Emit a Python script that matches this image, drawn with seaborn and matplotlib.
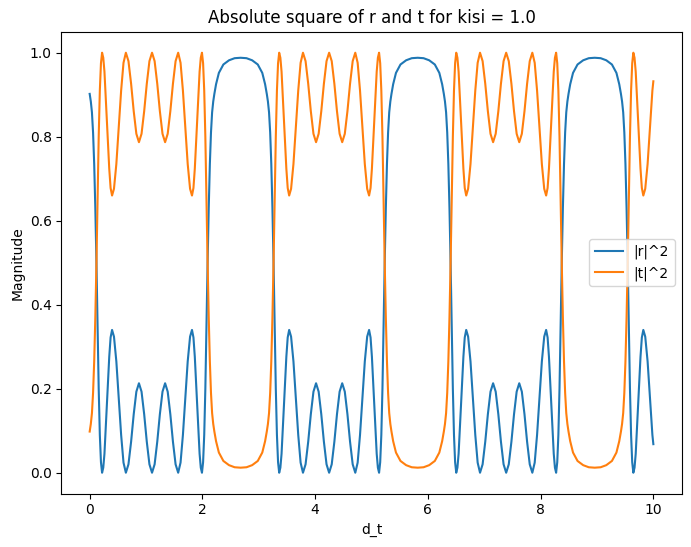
import matplotlib
matplotlib.use("Agg")
import matplotlib.pyplot as plt
import seaborn as sns
import pandas as pd

# d_t sample positions
d_t = [
    0.000, 0.020, 0.040, 0.060, 0.080, 0.100, 0.120, 0.140, 0.160, 0.180, 0.200, 0.220,
    0.241, 0.262, 0.304, 0.347, 0.371, 0.397, 0.431, 0.473, 0.515, 0.558, 0.600, 0.642,
    0.688, 0.735, 0.781, 0.828, 0.874, 0.920, 0.967, 1.013, 1.060, 1.106,
    1.152, 1.199, 1.245, 1.292, 1.338, 1.384, 1.431, 1.477, 1.524, 1.570,
    1.612, 1.654, 1.697, 1.739, 1.781, 1.815, 1.841, 1.865, 1.908, 1.950, 1.971, 1.992,
    2.012, 2.032, 2.052, 2.072, 2.092, 2.112, 2.132, 2.152, 2.172, 2.192, 2.212, 2.242,
    2.292, 2.372, 2.472, 2.572, 2.677,
    2.782, 2.882, 2.982, 3.062, 3.112, 3.142, 3.162, 3.182, 3.202, 3.222, 3.242, 3.262,
    3.282, 3.302, 3.322, 3.342, 3.362,
    3.383, 3.404, 3.446, 3.489, 3.513, 3.539, 3.573, 3.615, 3.657, 3.700, 3.742, 3.784,
    3.830, 3.877, 3.923, 3.970, 4.016, 4.062, 4.109, 4.155, 4.202, 4.248,
    4.294, 4.341, 4.387, 4.434, 4.480, 4.526, 4.573, 4.619, 4.666, 4.712,
    4.754, 4.796, 4.839, 4.881, 4.923, 4.957, 4.983, 5.007, 5.050, 5.092, 5.113, 5.134,
    5.154, 5.174, 5.194, 5.214, 5.234, 5.254, 5.274, 5.294, 5.314, 5.334, 5.354, 5.384,
    5.434, 5.514, 5.614, 5.714, 5.819,
    5.923, 6.023, 6.123, 6.203, 6.253, 6.283, 6.303, 6.323, 6.343, 6.363, 6.383, 6.403,
    6.423, 6.443, 6.463, 6.483, 6.503,
    6.524, 6.545, 6.587, 6.630, 6.654, 6.680, 6.714, 6.756, 6.798, 6.841, 6.883, 6.925,
    6.971, 7.018, 7.064, 7.111, 7.157, 7.203, 7.250, 7.296, 7.343, 7.389,
    7.435, 7.482, 7.528, 7.575, 7.621, 7.667, 7.714, 7.760, 7.807, 7.853,
    7.895, 7.937, 7.980, 8.022, 8.064, 8.098, 8.124, 8.148, 8.191, 8.233, 8.254, 8.275,
    8.295, 8.315, 8.335, 8.355, 8.375, 8.395, 8.415, 8.435, 8.455, 8.475, 8.495, 8.525,
    8.575, 8.655, 8.755, 8.855, 8.960,
    9.065, 9.165, 9.265, 9.345, 9.395, 9.425, 9.445, 9.465, 9.485, 9.505, 9.525, 9.545,
    9.565, 9.585, 9.605, 9.625, 9.645,
    9.666, 9.687, 9.729, 9.772, 9.796, 9.822, 9.856, 9.898, 9.940, 9.983, 10.000,
]

# |r|^2 values
r_sq = [
    0.902, 0.884, 0.858, 0.810, 0.735, 0.630, 0.500, 0.350, 0.200, 0.090, 0.025, 0.000,
    0.012, 0.045, 0.158, 0.276, 0.322, 0.340, 0.324, 0.265, 0.179, 0.090, 0.024, 0.000,
    0.020, 0.074, 0.139, 0.193, 0.213, 0.193, 0.139, 0.074, 0.020, 0.000,
    0.020, 0.074, 0.139, 0.193, 0.213, 0.193, 0.139, 0.074, 0.020, 0.000,
    0.024, 0.090, 0.179, 0.265, 0.324, 0.340, 0.322, 0.276, 0.158, 0.045, 0.012, 0.000,
    0.025, 0.090, 0.200, 0.350, 0.500, 0.630, 0.735, 0.810, 0.858, 0.884, 0.902, 0.925,
    0.952, 0.972, 0.982, 0.987, 0.988,
    0.987, 0.982, 0.972, 0.952, 0.925, 0.902, 0.884, 0.858, 0.810, 0.735, 0.630, 0.500,
    0.350, 0.200, 0.090, 0.025, 0.000,
    0.012, 0.045, 0.158, 0.276, 0.322, 0.340, 0.324, 0.265, 0.179, 0.090, 0.024, 0.000,
    0.020, 0.074, 0.139, 0.193, 0.213, 0.193, 0.139, 0.074, 0.020, 0.000,
    0.020, 0.074, 0.139, 0.193, 0.213, 0.193, 0.139, 0.074, 0.020, 0.000,
    0.024, 0.090, 0.179, 0.265, 0.324, 0.340, 0.322, 0.276, 0.158, 0.045, 0.012, 0.000,
    0.025, 0.090, 0.200, 0.350, 0.500, 0.630, 0.735, 0.810, 0.858, 0.884, 0.902, 0.925,
    0.952, 0.972, 0.982, 0.987, 0.988,
    0.987, 0.982, 0.972, 0.952, 0.925, 0.902, 0.884, 0.858, 0.810, 0.735, 0.630, 0.500,
    0.350, 0.200, 0.090, 0.025, 0.000,
    0.012, 0.045, 0.158, 0.276, 0.322, 0.340, 0.324, 0.265, 0.179, 0.090, 0.024, 0.000,
    0.020, 0.074, 0.139, 0.193, 0.213, 0.193, 0.139, 0.074, 0.020, 0.000,
    0.020, 0.074, 0.139, 0.193, 0.213, 0.193, 0.139, 0.074, 0.020, 0.000,
    0.024, 0.090, 0.179, 0.265, 0.324, 0.340, 0.322, 0.276, 0.158, 0.045, 0.012, 0.000,
    0.025, 0.090, 0.200, 0.350, 0.500, 0.630, 0.735, 0.810, 0.858, 0.884, 0.902, 0.925,
    0.952, 0.972, 0.982, 0.987, 0.988,
    0.987, 0.982, 0.972, 0.952, 0.925, 0.902, 0.884, 0.858, 0.810, 0.735, 0.630, 0.500,
    0.350, 0.200, 0.090, 0.025, 0.000,
    0.012, 0.045, 0.158, 0.276, 0.322, 0.340, 0.324, 0.265, 0.179, 0.090, 0.068,
]

# |t|^2 values
t_sq = [
    0.098, 0.116, 0.142, 0.190, 0.265, 0.370, 0.500, 0.650, 0.800, 0.910, 0.975, 1.000,
    0.988, 0.955, 0.842, 0.724, 0.678, 0.660, 0.676, 0.735, 0.821, 0.910, 0.976, 1.000,
    0.980, 0.926, 0.861, 0.807, 0.787, 0.807, 0.861, 0.926, 0.980, 1.000,
    0.980, 0.926, 0.861, 0.807, 0.787, 0.807, 0.861, 0.926, 0.980, 1.000,
    0.976, 0.910, 0.821, 0.735, 0.676, 0.660, 0.678, 0.724, 0.842, 0.955, 0.988, 1.000,
    0.975, 0.910, 0.800, 0.650, 0.500, 0.370, 0.265, 0.190, 0.142, 0.116, 0.098, 0.075,
    0.048, 0.028, 0.018, 0.013, 0.012,
    0.013, 0.018, 0.028, 0.048, 0.075, 0.098, 0.116, 0.142, 0.190, 0.265, 0.370, 0.500,
    0.650, 0.800, 0.910, 0.975, 1.000,
    0.988, 0.955, 0.842, 0.724, 0.678, 0.660, 0.676, 0.735, 0.821, 0.910, 0.976, 1.000,
    0.980, 0.926, 0.861, 0.807, 0.787, 0.807, 0.861, 0.926, 0.980, 1.000,
    0.980, 0.926, 0.861, 0.807, 0.787, 0.807, 0.861, 0.926, 0.980, 1.000,
    0.976, 0.910, 0.821, 0.735, 0.676, 0.660, 0.678, 0.724, 0.842, 0.955, 0.988, 1.000,
    0.975, 0.910, 0.800, 0.650, 0.500, 0.370, 0.265, 0.190, 0.142, 0.116, 0.098, 0.075,
    0.048, 0.028, 0.018, 0.013, 0.012,
    0.013, 0.018, 0.028, 0.048, 0.075, 0.098, 0.116, 0.142, 0.190, 0.265, 0.370, 0.500,
    0.650, 0.800, 0.910, 0.975, 1.000,
    0.988, 0.955, 0.842, 0.724, 0.678, 0.660, 0.676, 0.735, 0.821, 0.910, 0.976, 1.000,
    0.980, 0.926, 0.861, 0.807, 0.787, 0.807, 0.861, 0.926, 0.980, 1.000,
    0.980, 0.926, 0.861, 0.807, 0.787, 0.807, 0.861, 0.926, 0.980, 1.000,
    0.976, 0.910, 0.821, 0.735, 0.676, 0.660, 0.678, 0.724, 0.842, 0.955, 0.988, 1.000,
    0.975, 0.910, 0.800, 0.650, 0.500, 0.370, 0.265, 0.190, 0.142, 0.116, 0.098, 0.075,
    0.048, 0.028, 0.018, 0.013, 0.012,
    0.013, 0.018, 0.028, 0.048, 0.075, 0.098, 0.116, 0.142, 0.190, 0.265, 0.370, 0.500,
    0.650, 0.800, 0.910, 0.975, 1.000,
    0.988, 0.955, 0.842, 0.724, 0.678, 0.660, 0.676, 0.735, 0.821, 0.910, 0.932,
]

series_labels = ["|r|^2", "|t|^2"]
title = "Absolute square of r and t for kisi = 1.0"

df = pd.DataFrame({"d_t": d_t, "r": r_sq, "t": t_sq})

fig = plt.figure(figsize=(6.91, 5.47), dpi=100)
ax = fig.add_axes([0.089, 0.0974, 0.8973, 0.8446])

sns.lineplot(data=df, x="d_t", y="r", ax=ax, color="#1f77b4",
             label=series_labels[0], linewidth=1.5, estimator=None, sort=False)
sns.lineplot(data=df, x="d_t", y="t", ax=ax, color="#ff7f0e",
             label=series_labels[1], linewidth=1.5, estimator=None, sort=False)

ax.set_title(title, fontsize=12)
ax.set_xlabel("d_t", fontsize=10)
ax.set_ylabel("Magnitude", fontsize=10)
ax.set_xticks([0, 2, 4, 6, 8, 10])
ax.set_yticks([0.0, 0.2, 0.4, 0.6, 0.8, 1.0])
ax.legend(loc="center right")

fig.savefig("out.png", dpi=100)
